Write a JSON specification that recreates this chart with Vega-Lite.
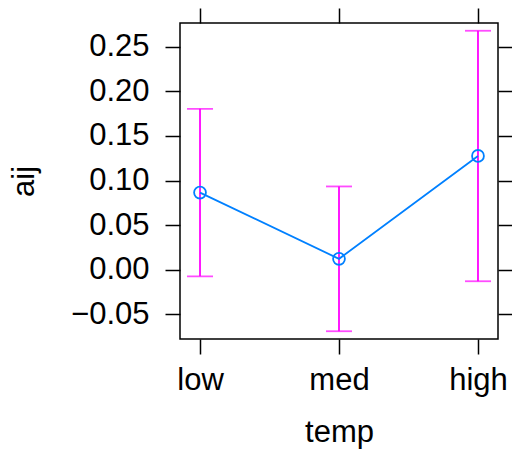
{
  "$schema": "https://vega.github.io/schema/vega-lite/v6.json",
  "autosize": "none",
  "width": 318,
  "height": 316,
  "padding": {"left": 180, "top": 23, "right": 14, "bottom": 114},
  "background": "white",
  "config": {
    "font": "Liberation Sans",
    "view": {"stroke": "black", "strokeWidth": 1.5},
    "axis": {
      "domain": false,
      "grid": false,
      "tickColor": "black",
      "tickWidth": 1.5,
      "tickSize": 15,
      "labelFont": "Liberation Sans",
      "labelFontSize": 31,
      "labelColor": "black",
      "titleFont": "Liberation Sans",
      "titleFontSize": 31,
      "titleFontWeight": "normal",
      "titleColor": "black"
    }
  },
  "data": {
    "values": [
      {"temp": "low", "aij": 0.0865, "lower": -0.0073, "upper": 0.1803},
      {"temp": "med", "aij": 0.0123, "lower": -0.0688, "upper": 0.0934},
      {"temp": "high", "aij": 0.1276, "lower": -0.0128, "upper": 0.2678}
    ]
  },
  "layer": [
    {
      "mark": {"type": "rule", "color": "#ff00ff", "strokeWidth": 1.8},
      "encoding": {
        "x": {
          "field": "temp", "type": "nominal", "sort": ["low", "med", "high"],
          "scale": {"type": "point", "padding": 0.144},
          "axis": {"orient": "bottom", "title": "temp", "labelAngle": 0, "labelPadding": 11, "titlePadding": 22}
        },
        "y": {
          "field": "lower", "type": "quantitative",
          "scale": {"domain": [-0.0775, 0.2765], "nice": false, "zero": false},
          "axis": {"orient": "left", "title": "aij", "values": [-0.05, 0, 0.05, 0.1, 0.15, 0.2, 0.25], "format": ".2f", "labelPadding": 16, "titlePadding": 30}
        },
        "y2": {"field": "upper"}
      }
    },
    {
      "mark": {"type": "tick", "color": "#ff00ff", "size": 26, "thickness": 1.8},
      "encoding": {
        "x": {"field": "temp", "type": "nominal", "sort": ["low", "med", "high"],
          "axis": {"orient": "top", "labels": false, "title": null}},
        "y": {"field": "upper", "type": "quantitative",
          "axis": {"orient": "right", "labels": false, "title": null, "values": [-0.05, 0, 0.05, 0.1, 0.15, 0.2, 0.25]}}
      }
    },
    {
      "mark": {"type": "tick", "color": "#ff00ff", "size": 26, "thickness": 1.8},
      "encoding": {
        "x": {"field": "temp", "type": "nominal", "sort": ["low", "med", "high"], "axis": null},
        "y": {"field": "lower", "type": "quantitative", "axis": null}
      }
    },
    {
      "mark": {"type": "line", "color": "#0080ff", "strokeWidth": 1.8},
      "encoding": {
        "x": {"field": "temp", "type": "nominal", "sort": ["low", "med", "high"], "axis": null},
        "y": {"field": "aij", "type": "quantitative", "axis": null}
      }
    },
    {
      "mark": {"type": "point", "shape": "circle", "filled": false, "color": "#0080ff", "strokeWidth": 1.8, "size": 140, "opacity": 1},
      "encoding": {
        "x": {"field": "temp", "type": "nominal", "sort": ["low", "med", "high"], "axis": null},
        "y": {"field": "aij", "type": "quantitative", "axis": null}
      }
    }
  ]
}
